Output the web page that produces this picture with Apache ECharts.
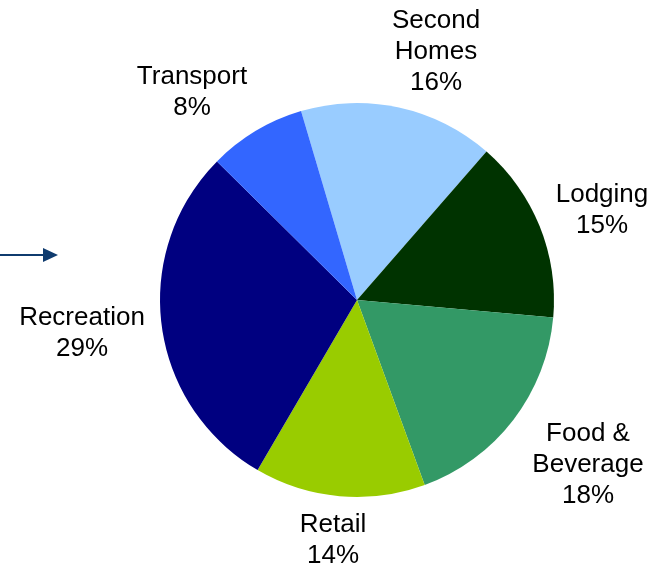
<!DOCTYPE html>
<html>
<head>
<meta charset="utf-8">
<script src="https://cdn.jsdelivr.net/npm/echarts@6/dist/echarts.min.js"></script>
<style>
  html, body { margin: 0; padding: 0; background: #fff; }
  #chart { width: 656px; height: 568px; }
</style>
</head>
<body>
<div id="chart"></div>
<script>
// slices, clockwise from the top
const categories = ["Second\nHomes", "Lodging", "Food &\nBeverage", "Retail", "Recreation", "Transport"];
const shares = [16, 15, 18, 14, 29, 8];

const colors = ["#99CCFF", "#003300", "#339966", "#99CC00", "#000080", "#3366FF"];
// where each label block sits (centre of text)
const labelSpots = [[436, 52], [602, 210], [588, 465], [333, 540], [82, 333], [192, 92]];

const chart = echarts.init(document.getElementById("chart"));

chart.setOption({
  animation: false,
  color: colors,
  graphic: [
    {
      type: "line",
      shape: { x1: 0, y1: 255, x2: 45, y2: 255 },
      style: { stroke: "#0F3B6E", lineWidth: 2 }
    },
    {
      type: "polygon",
      shape: { points: [[43, 248], [58, 255], [43, 262]] },
      style: { fill: "#0F3B6E" }
    }
  ],
  series: [
    {
      type: "pie",
      center: [357, 300],
      radius: 197,
      startAngle: 106.5,
      clockwise: true,
      avoidLabelOverlap: false,
      data: categories.map((c, i) => ({ name: c, value: shares[i] })),
      itemStyle: { borderWidth: 0 },
      label: {
        show: true,
        position: "outside",
        formatter: (p) => p.name + "\n" + p.value + "%",
        fontFamily: "Liberation Sans, Arial, sans-serif",
        fontSize: 26,
        lineHeight: 31,
        color: "#000",
        align: "center"
      },
      labelLine: { show: false },
      labelLayout: (params) => {
        const s = labelSpots[params.dataIndex];
        return { x: s[0], y: s[1], align: "center", verticalAlign: "middle" };
      },
      emphasis: { disabled: true }
    }
  ]
});
</script>
</body>
</html>
